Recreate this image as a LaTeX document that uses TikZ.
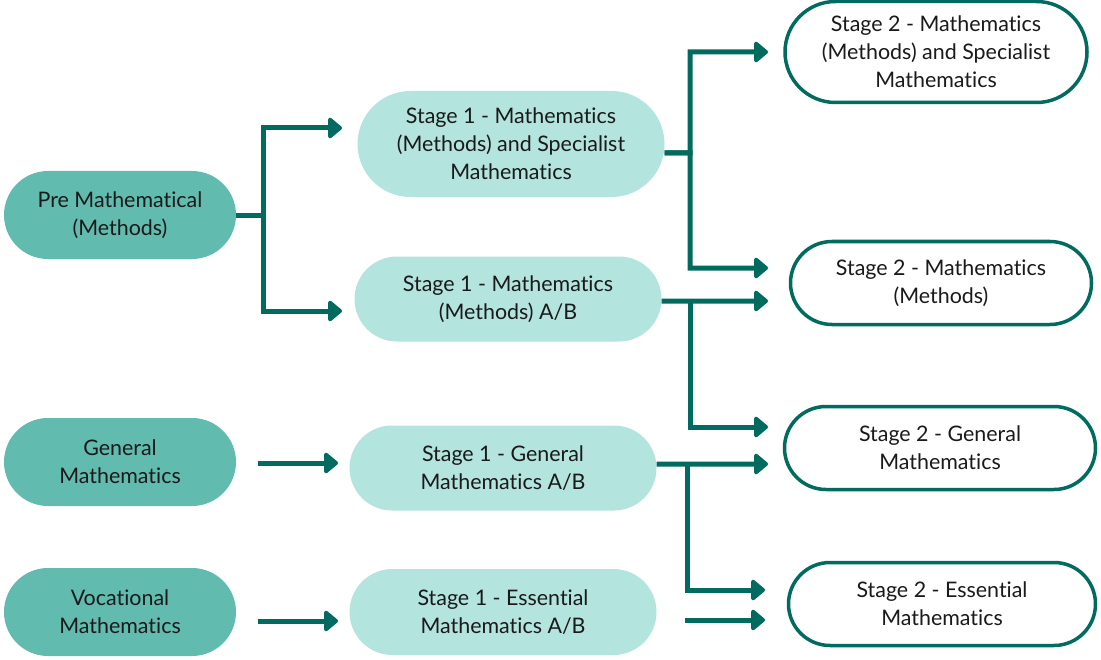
\documentclass[tikz,border=0pt]{standalone}
\usepackage{fontspec}
\setmainfont{Lato}[Ligatures={NoCommon,NoRare}]
\usetikzlibrary{arrows.meta,shapes.misc}
\definecolor{srcfill}{HTML}{62BBAF}
\definecolor{midfill}{HTML}{B3E4DE}
\definecolor{teal}{HTML}{006B5E}
\definecolor{ink}{HTML}{1A1A1A}
\tikzset{
  pill/.style={rounded rectangle, align=center, text=ink, inner sep=2bp,
    font=\fontsize{21.5}{28}\selectfont},
  srcbox/.style={pill, fill=srcfill, minimum width=236bp, minimum height=88bp},
  midbox/.style={pill, fill=midfill, minimum width=311bp, minimum height=85bp},
  outbox/.style={pill, draw=teal, line width=3.5bp, fill=white, minimum width=305bp, minimum height=83bp},
  conn/.style={draw=teal, line width=5bp},
  arr/.style={conn, -{Triangle[length=15bp,width=24bp,round]}},
}
\begin{document}
\begin{tikzpicture}[x=1bp,y=-1bp]
\useasboundingbox (0,0) rectangle (1101,660);

% source courses
\node[srcbox] (pre) at (120,215) {Pre Mathematical\\(Methods)};
\node[srcbox] (gen) at (120,462) {General\\Mathematics};
\node[srcbox] (voc) at (120,612) {Vocational\\Mathematics};

% stage 1 courses
\node[midbox, minimum height=106bp] (s1ms) at (511,144) {Stage 1 - Mathematics\\(Methods) and Specialist\\Mathematics};
\node[midbox] (s1meth) at (508,299) {Stage 1 - Mathematics\\(Methods) A/B};
\node[midbox] (s1gen) at (503,468) {Stage 1 - General\\Mathematics A/B};
\node[midbox, minimum height=86bp] (s1ess) at (503,612) {Stage 1 - Essential\\Mathematics A/B};

% stage 2 courses
\node[outbox, minimum width=306bp, minimum height=101bp] (s2ms) at (936,52) {Stage 2 - Mathematics\\(Methods) and Specialist\\Mathematics};
\node[outbox] (s2meth) at (941,283) {Stage 2 - Mathematics\\(Methods)};
\node[outbox, minimum width=315bp] (s2gen) at (940,448) {Stage 2 - General\\Mathematics};
\node[outbox, minimum width=311bp] (s2ess) at (942,604) {Stage 2 - Essential\\Mathematics};

% arrow end points
\coordinate (t1) at (342,128);
\coordinate (t2) at (342,311);
\coordinate (t3) at (768,52);
\coordinate (t4) at (768,268);
\coordinate (t5) at (768,301);
\coordinate (t6) at (768,427);
\coordinate (t7) at (768,464);
\coordinate (t8) at (765,590);
\coordinate (t9) at (765,620);
\coordinate (t10) at (338,463);
\coordinate (t11) at (338,621);
\coordinate (c1) at (685,620);
\coordinate (c2) at (258,463);
\coordinate (c3) at (258,621);

% connectors
\draw[arr] (pre.east) -- (263,215) |- (t1);
\draw[arr] (pre.east) -- (263,215) |- (t2);

\draw[arr] ([yshift=-9bp]s1ms.east) -- (690,153) |- (t3);
\draw[arr] ([yshift=-9bp]s1ms.east) -- (690,153) |- (t4);

\draw[arr] ([yshift=-2bp]s1meth.east) -- (t5);
\draw[arr] (690,301) |- (t6);

\draw[arr] ([yshift=4bp]s1gen.east) -- (t7);
\draw[arr] (687,464) |- (t8);

\draw[arr] (c1) -- (t9);
\draw[arr] (c2) -- (t10);
\draw[arr] (c3) -- (t11);
\end{tikzpicture}
\end{document}
